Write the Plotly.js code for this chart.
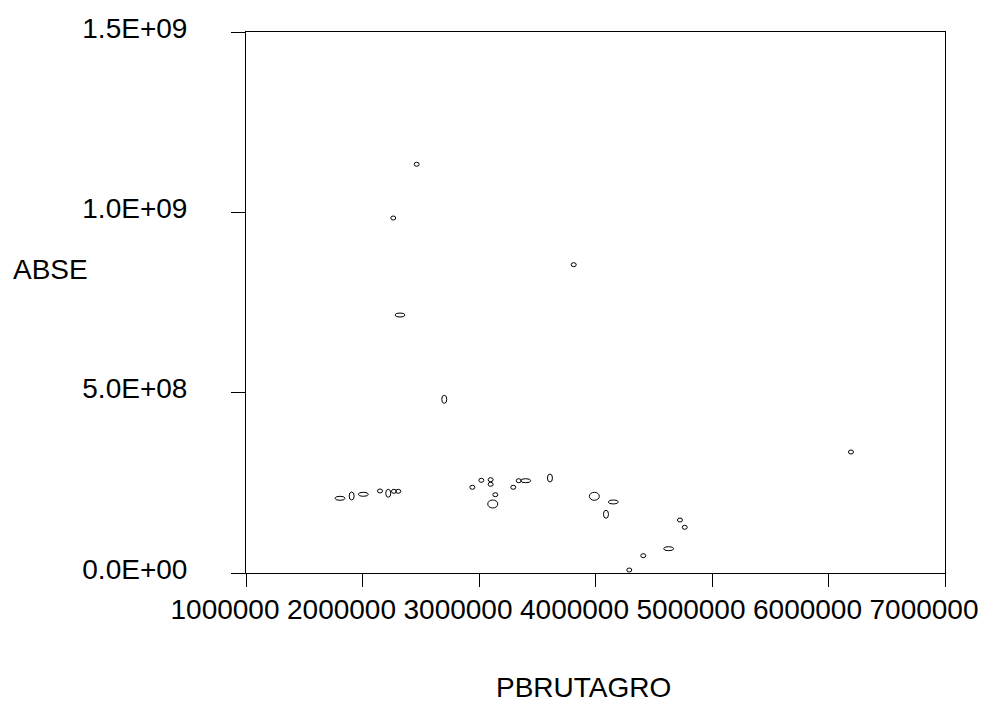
<!DOCTYPE html>
<html>
<head>
<meta charset="utf-8">
<script src="https://cdn.plot.ly/plotly-3.0.1.min.js"></script>
<style>html,body{margin:0;padding:0;background:#fff;}#chart{width:984px;height:704px;}</style>
</head>
<body>
<div id="chart"></div>
<script>
// PBRUTAGRO (x) vs ABSE (y)
var pbrutagro = [1807000, 1907000, 2007000, 2150000, 2221000, 2270000, 2307000,
  2943000, 3020000, 3100000, 3100000, 3140000, 3118000, 3294000, 3341000, 3401000,
  3609000, 3990000, 4153000, 4090000, 4725000, 4766000, 4628000, 4410000, 4290000,
  2465000, 2264000, 2322000, 3813000, 6193000, 2702000];
var abse = [2.071e8, 2.135e8, 2.182e8, 2.274e8, 2.210e8, 2.265e8, 2.265e8,
  2.376e8, 2.570e8, 2.587e8, 2.459e8, 2.171e8, 1.913e8, 2.376e8, 2.559e8, 2.559e8,
  2.634e8, 2.127e8, 1.969e8, 1.628e8, 1.469e8, 1.267e8, 6.74e7, 4.80e7, 8.3e6,
  1.1332e9, 9.843e8, 7.153e8, 8.548e8, 3.355e8, 4.816e8];
// marker shape kind per point: s = small, v = tall, h = wide, b = big
var markerKind = ['h','v','h','s','v','s','s',
  's','s','s','s','s','b','s','s','h',
  'v','b','h','v','s','s','h','s','s',
  's','s','h','s','s','v'];

var xTickVals = [1000000, 2000000, 3000000, 4000000, 5000000, 6000000, 7000000];
var xTickText = ['1000000','2000000','3000000','4000000','5000000','6000000','7000000'];
var yTickVals = [0, 5e8, 1e9, 1.5e9];
var yTickText = ['0.0E+00','5.0E+08','1.0E+09','1.5E+09'];

var kindSize = {s:[5,4], v:[5,8], h:[10,4], b:[10,8]};

var shapes = pbrutagro.map(function(x, i){
  var sz = kindSize[markerKind[i]];
  return {
    type:'circle', xref:'x', yref:'y',
    xsizemode:'pixel', ysizemode:'pixel',
    xanchor:x, yanchor:abse[i],
    x0:-sz[0]/2, x1:sz[0]/2, y0:-sz[1]/2, y1:sz[1]/2,
    line:{color:'#000', width:1}, fillcolor:'rgba(0,0,0,0)'
  };
});

var font = {family:'"Liberation Sans", Arial, sans-serif', size:28, color:'#000'};

var data = [{
  type:'scatter', mode:'markers', x:pbrutagro, y:abse,
  marker:{size:6, opacity:0}, hoverinfo:'x+y', showlegend:false
}];

var layout = {
  width:984, height:704,
  margin:{l:246, r:39, t:32, b:131, pad:0},
  paper_bgcolor:'#fff', plot_bgcolor:'#fff',
  font:font,
  showlegend:false,
  xaxis:{
    range:[1000000, 7000000], tickmode:'array', tickvals:xTickVals, ticktext:xTickText,
    showgrid:false, zeroline:false, showline:true, mirror:true, linecolor:'#000', linewidth:1,
    ticks:'outside', ticklen:13, tickcolor:'#000', tickwidth:1,
    tickfont:font, ticklabelshift:-21, ticklabelstandoff:-2
  },
  yaxis:{
    range:[0, 1.5e9], tickmode:'array', tickvals:yTickVals, ticktext:yTickText,
    showgrid:false, zeroline:false, showline:true, mirror:true, linecolor:'#000', linewidth:1,
    ticks:'outside', ticklen:14, tickcolor:'#000', tickwidth:1,
    tickfont:font, ticklabelstandoff:38, ticklabelshift:-4
  },
  shapes:shapes,
  annotations:[
    {text:'ABSE', xref:'paper', yref:'paper', x:-0.2804, y:0.5619, xanchor:'center', yanchor:'middle', showarrow:false, font:font},
    {text:'PBRUTAGRO', xref:'paper', yref:'paper', x:0.4835, y:0, yshift:-114, xanchor:'center', yanchor:'middle', showarrow:false, font:font}
  ]
};

Plotly.newPlot('chart', data, layout, {displayModeBar:false, staticPlot:false});
</script>
</body>
</html>
